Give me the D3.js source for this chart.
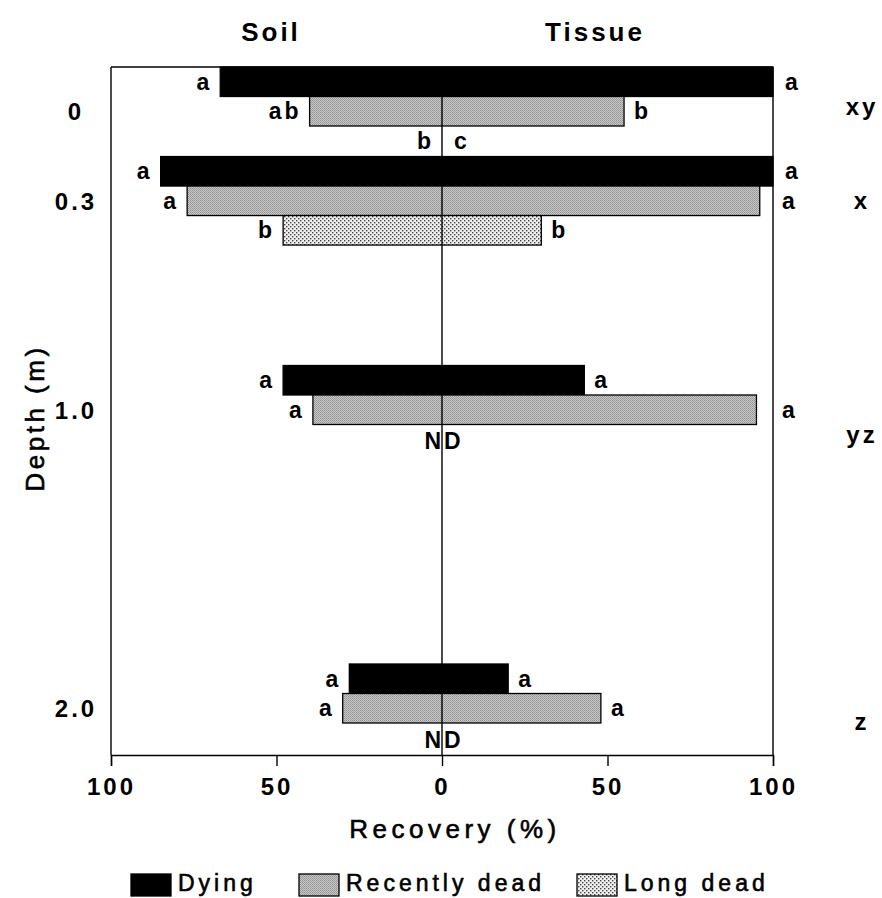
<!DOCTYPE html>
<html>
<head>
<meta charset="utf-8">
<script src="https://cdn.jsdelivr.net/npm/d3@7/dist/d3.min.js"></script>
<style>
  html, body { margin: 0; padding: 0; background: #fff; }
  svg { display: block; }
  text { font-family: "Liberation Sans", Arial, sans-serif; fill: #000; }
</style>
</head>
<body>
<script>
// ---- data ----
const depths = [0, 0.3, 1.0, 2.0];
const depthLabels = ["0", "0.3", "1.0", "2.0"];
const depthGroupLetters = ["xy", "x", "yz", "z"];
const seriesNames = ["Dying", "Recently dead", "Long dead"];

const soilDying = [67, 85, 48, 28];
const tissueDying = [100, 100, 43, 20];
const soilRecent = [40, 77, 39, 30];
const tissueRecent = [55, 96, 95, 48];
const soilLong = [0, 48, null, null];
const tissueLong = [0, 30, null, null];

const soilDyingLetters = ["a", "a", "a", "a"];
const tissueDyingLetters = ["a", "a", "a", "a"];
const soilRecentLetters = ["ab", "a", "a", "a"];
const tissueRecentLetters = ["b", "a", "a", "a"];
const soilLongLetters = ["b", "b", "ND", "ND"];
const tissueLongLetters = ["c", "b", "", ""];

const xTicks = [-100, -50, 0, 50, 100];
const notDetected = "ND";

// ---- layout ----
const W = 882, H = 898;
const frame = { left: 111, right: 773, top: 67, bottom: 755 };
const rowH = 29.5;
const groupLetterRowPos = [1.35, 1.5, 2.35, 1.95]; // vertical placement (in rows) of the right-hand letters

const svg = d3.select("body").append("svg").attr("width", W).attr("height", H);

const defs = svg.append("defs");
const pRecent = defs.append("pattern").attr("id", "recent").attr("patternUnits", "userSpaceOnUse")
  .attr("width", 2).attr("height", 2);
pRecent.append("rect").attr("width", 2).attr("height", 2).attr("fill", "#c8c8c8");
pRecent.append("rect").attr("x", 0).attr("y", 0).attr("width", 1).attr("height", 1).attr("fill", "#929292");
pRecent.append("rect").attr("x", 1).attr("y", 1).attr("width", 1).attr("height", 1).attr("fill", "#a0a0a0");

const pLong = defs.append("pattern").attr("id", "long").attr("patternUnits", "userSpaceOnUse")
  .attr("width", 4).attr("height", 4);
pLong.append("rect").attr("width", 4).attr("height", 4).attr("fill", "#efefef");
pLong.append("rect").attr("x", 0).attr("y", 0).attr("width", 1.4).attr("height", 1.4).attr("fill", "#444");
pLong.append("rect").attr("x", 2).attr("y", 2).attr("width", 1.4).attr("height", 1.4).attr("fill", "#444");

const fills = ["#000", "url(#recent)", "url(#long)"];

// scales
const x = d3.scaleLinear().domain([-100, 100]).range([frame.left, frame.right]);
const xSoil = v => x(-v);
const xTissue = v => x(v);
const yGroup = d3.scaleLinear().domain([0, 2]).range([frame.top, 664]);

// rows
const rows = [];
depths.forEach((d, i) => {
  const soilVals = [soilDying[i], soilRecent[i], soilLong[i]];
  const tisVals = [tissueDying[i], tissueRecent[i], tissueLong[i]];
  const soilL = [soilDyingLetters[i], soilRecentLetters[i], soilLongLetters[i]];
  const tisL = [tissueDyingLetters[i], tissueRecentLetters[i], tissueLongLetters[i]];
  for (let k = 0; k < 3; k++) {
    rows.push({ depth: d, k, soil: soilVals[k], tissue: tisVals[k], soilL: soilL[k], tisL: tisL[k], y: yGroup(d) + k * rowH });
  }
});

// bars
const barG = svg.append("g");
rows.filter(r => r.soil !== null && (r.soil > 0 || r.tissue > 0)).forEach(r => {
  barG.append("rect")
    .attr("x", xSoil(r.soil))
    .attr("y", r.y)
    .attr("width", xTissue(r.tissue) - xSoil(r.soil))
    .attr("height", rowH)
    .attr("fill", fills[r.k])
    .attr("stroke", "#000")
    .attr("stroke-width", 1.3);
});

// frame
const fg = svg.append("g").attr("stroke", "#000").attr("stroke-width", 1.4).attr("fill", "none");
fg.append("line").attr("x1", frame.left).attr("x2", frame.right).attr("y1", frame.top).attr("y2", frame.top);
fg.append("line").attr("x1", frame.left).attr("x2", frame.left).attr("y1", frame.top).attr("y2", frame.bottom);
fg.append("line").attr("x1", frame.right).attr("x2", frame.right).attr("y1", frame.top).attr("y2", frame.bottom);
fg.append("line").attr("x1", x(0)).attr("x2", x(0)).attr("y1", frame.top).attr("y2", frame.bottom);

// bottom axis
const axis = d3.axisBottom(x).tickValues(xTicks).tickSize(11).tickPadding(12)
  .tickFormat(d => String(Math.abs(d)));
const ax = svg.append("g").attr("transform", `translate(0,${frame.bottom})`).call(axis);
ax.select(".domain").attr("stroke", "#000").attr("stroke-width", 1.4);
ax.selectAll(".tick line").attr("stroke", "#000").attr("stroke-width", 1.4);
ax.selectAll(".tick text").style("font-size", "24px").style("font-weight", "bold")
  .style("letter-spacing", "3px").style("font-family", '"Liberation Sans", Arial, sans-serif');

// letters
const lg = svg.append("g").style("font-size", "23px").style("font-weight", "bold").style("letter-spacing", "3px");
rows.forEach(r => {
  const cy = r.y + rowH / 2 + 8;
  if (r.soil === null) {
    lg.append("text").attr("x", x(0) + 2).attr("y", cy + 2).attr("text-anchor", "middle").text(notDetected);
    return;
  }
  lg.append("text").attr("x", xSoil(r.soil) - 8).attr("y", cy).attr("text-anchor", "end").text(r.soilL);
  const xe = xTissue(r.tissue);
  const tx = r.tissue >= 90 ? Math.max(frame.right + 9, xe + 12) : xe + (r.tissue === 0 ? 12 : 10);
  lg.append("text").attr("x", tx).attr("y", cy).attr("text-anchor", "start").text(r.tisL);
});

// depth labels and group letters
const dl = svg.append("g").style("font-size", "24px").style("font-weight", "bold").style("letter-spacing", "3px");
depths.forEach((d, i) => {
  dl.append("text").attr("x", 76).attr("y", yGroup(d) + rowH * 1.5 + 9).attr("text-anchor", "middle").text(depthLabels[i]);
  dl.append("text").attr("x", 862).attr("y", yGroup(d) + rowH * groupLetterRowPos[i] + 8)
    .attr("text-anchor", "middle").text(depthGroupLetters[i]);
});

// titles
const tt = svg.append("g").style("font-size", "26px").style("font-weight", "bold").style("letter-spacing", "3px");
tt.append("text").attr("x", 271).attr("y", 41).attr("text-anchor", "middle").text("Soil");
tt.append("text").attr("x", 595).attr("y", 41).attr("text-anchor", "middle").text("Tissue");
tt.append("text").attr("x", 455).attr("y", 838).attr("text-anchor", "middle").style("font-weight", "normal")
  .style("letter-spacing", "4.5px").style("stroke", "#000").style("stroke-width", 0.6).text("Recovery (%)");
tt.append("text").attr("transform", "translate(44,418) rotate(-90)").attr("text-anchor", "middle")
  .style("font-weight", "normal").style("letter-spacing", "3.5px")
  .style("stroke", "#000").style("stroke-width", 0.6).text("Depth (m)");

// legend
const legX = [131, 299, 577];
const leg = svg.append("g");
seriesNames.forEach((s, i) => {
  leg.append("rect").attr("x", legX[i]).attr("y", 874).attr("width", 40).attr("height", 22)
    .attr("fill", fills[i]).attr("stroke", "#000").attr("stroke-width", 1.3);
  leg.append("text").attr("x", legX[i] + 47).attr("y", 891)
    .style("font-size", "23px").style("letter-spacing", "4px").style("stroke", "#000").style("stroke-width", 0.6)
    .text(s);
});
</script>
</body>
</html>
